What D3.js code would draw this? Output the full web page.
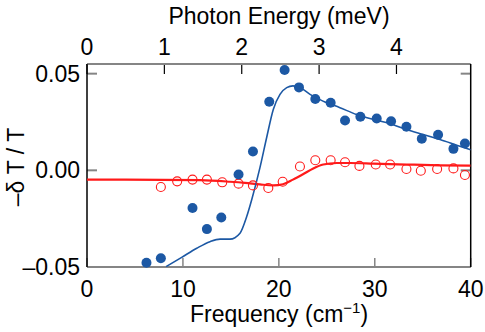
<!DOCTYPE html>
<html>
<head>
<meta charset="utf-8">
<script src="https://cdn.jsdelivr.net/npm/d3@7"></script>
<style>
	body { margin: 0; background: #fff; }
	text { font-family: "Liberation Sans", Arial, sans-serif; fill: #000; }
</style>
</head>
<body>
<div id="chart"></div>
<script>
// measured points (frequency in cm-1, -dT/T)
var blueFreq = [6.2, 7.7, 11.0, 12.5, 14.0, 15.8, 17.3, 19.0, 20.6, 22.1, 23.8, 25.4, 26.9, 28.5, 30.2, 31.7, 33.3, 34.9, 36.6, 38.2, 39.4];
var blueVal = [-0.0478, -0.0455, -0.0195, -0.0304, -0.0244, -0.0022, 0.0097, 0.0355, 0.0519, 0.0429, 0.0369, 0.0350, 0.0258, 0.0277, 0.0268, 0.0254, 0.0225, 0.0163, 0.0184, 0.0111, 0.0139];
var redFreq = [7.7, 9.4, 11.0, 12.5, 14.1, 15.8, 17.3, 18.9, 20.4, 22.2, 23.8, 25.4, 26.9, 28.4, 30.1, 31.6, 33.3, 34.8, 36.5, 38.2, 39.4];
var redVal = [-0.0086, -0.0057, -0.0048, -0.0048, -0.0062, -0.0069, -0.0078, -0.0091, -0.0059, 0.0020, 0.0052, 0.0052, 0.0042, 0.0023, 0.0030, 0.0030, 0.0007, -0.0002, 0.0007, 0.0010, -0.0024];

// fit curves
var blueFitFreq = [8.24, 9.87, 11.44, 12.82, 13.87, 14.9, 15.95, 16.65, 17.17, 18.03, 18.73, 19.42, 20.12, 20.82, 21.47, 22.2, 23.25, 24.6, 26.37, 28.1, 29.85, 31.6, 33.33, 35.06, 36.8, 38.54, 40.0];
var blueFitVal = [-0.0498, -0.0450, -0.0403, -0.0369, -0.0356, -0.0356, -0.0325, -0.0239, -0.0152, 0.0014, 0.0170, 0.0315, 0.0393, 0.0428, 0.0437, 0.0428, 0.0393, 0.0358, 0.0324, 0.0289, 0.0263, 0.0241, 0.0211, 0.0185, 0.0159, 0.0130, 0.0106];
var redFitFreq = [0, 11.78, 14.9, 16.47, 18.03, 19.42, 20.43, 21.47, 22.52, 23.59, 24.63, 26.03, 27.42, 29.85, 33.33, 36.8, 40.0];
var redFitVal = [-0.0048, -0.0051, -0.0059, -0.0065, -0.0073, -0.0078, -0.0072, -0.0048, -0.0020, 0.0010, 0.0030, 0.0038, 0.0038, 0.0035, 0.0030, 0.0026, 0.0024];

var xTicks = [0, 10, 20, 30, 40];
var topTicks = [0, 1, 2, 3, 4];
var yTicks = [-0.05, 0, 0.05];
var yTickLabels = ['\u20130.05', '0.00', '0.05'];

(function() {
	var width = 485, height = 332;
	var pLeft = 87, pRight = 470.7, pTop = 64, pBottom = 267;
	var blue = '#1c58a4', red = '#ff1a1a', gray = '#858585';
	var cmPerMeV = 8.0655;
	var fs = 23;

	var svg = d3.select('#chart').append('svg')
		.attr('width', width)
		.attr('height', height);

	var x = d3.scaleLinear().domain([0, 40]).range([pLeft, pRight]);
	var xTop = d3.scaleLinear().domain([0, 40 / cmPerMeV]).range([pLeft, pRight]);
	var y = d3.scaleLinear().domain([-0.05, 0.055]).range([pBottom, pTop]);

	svg.append('clipPath').attr('id', 'plot')
		.append('rect')
		.attr('x', pLeft).attr('y', pTop)
		.attr('width', pRight - pLeft).attr('height', pBottom - pTop);

	// ticks, all drawn inward
	var g = svg.append('g');
	yTicks.forEach(function(t) {
		g.append('line').attr('x1', pLeft).attr('x2', pLeft + 10)
			.attr('y1', y(t)).attr('y2', y(t))
			.attr('stroke', gray).attr('stroke-width', 2);
		g.append('line').attr('x1', pRight - 10).attr('x2', pRight)
			.attr('y1', y(t)).attr('y2', y(t))
			.attr('stroke', gray).attr('stroke-width', 2);
	});
	xTicks.forEach(function(t) {
		g.append('line').attr('x1', x(t)).attr('x2', x(t))
			.attr('y1', pBottom).attr('y2', pBottom - 9)
			.attr('stroke', gray).attr('stroke-width', 1.5);
	});
	topTicks.forEach(function(t) {
		g.append('line').attr('x1', xTop(t)).attr('x2', xTop(t))
			.attr('y1', pTop).attr('y2', pTop + 10)
			.attr('stroke', '#000').attr('stroke-width', 1.2);
	});

	// frame
	g.append('line').attr('x1', pLeft).attr('x2', pRight).attr('y1', pTop).attr('y2', pTop)
		.attr('stroke', gray).attr('stroke-width', 2);
	g.append('line').attr('x1', pLeft).attr('x2', pRight).attr('y1', pBottom).attr('y2', pBottom)
		.attr('stroke', gray).attr('stroke-width', 2);
	g.append('line').attr('x1', pLeft).attr('x2', pLeft).attr('y1', pTop).attr('y2', pBottom)
		.attr('stroke', '#000').attr('stroke-width', 1.5);
	g.append('line').attr('x1', pRight).attr('x2', pRight).attr('y1', pTop).attr('y2', pBottom)
		.attr('stroke', '#000').attr('stroke-width', 1.5);

	// tick labels
	yTicks.forEach(function(t, i) {
		svg.append('text').attr('x', 80).attr('y', y(t) + 8)
			.attr('text-anchor', 'end').attr('font-size', fs)
			.text(yTickLabels[i]);
	});
	xTicks.forEach(function(t) {
		svg.append('text').attr('x', x(t)).attr('y', 297)
			.attr('text-anchor', 'middle').attr('font-size', fs)
			.text(t);
	});
	topTicks.forEach(function(t) {
		svg.append('text').attr('x', xTop(t)).attr('y', 55)
			.attr('text-anchor', 'middle').attr('font-size', fs)
			.text(t);
	});

	// axis titles
	svg.append('text').attr('x', 279).attr('y', 24)
		.attr('text-anchor', 'middle').attr('font-size', fs)
		.text('Photon Energy (meV)');
	var xl = svg.append('text').attr('x', 279).attr('y', 322)
		.attr('text-anchor', 'middle').attr('font-size', fs);
	xl.append('tspan').text('Frequency (cm');
	xl.append('tspan').attr('dy', -9).attr('font-size', 15).text('\u22121');
	xl.append('tspan').attr('dy', 9).text(')');
	svg.append('text')
		.attr('transform', 'translate(24,167) rotate(-90)')
		.attr('text-anchor', 'middle').attr('font-size', fs)
		.text('\u2013\u03b4 T / T');

	// fit lines
	var line = d3.line()
		.x(function(d) { return x(d[0]); })
		.y(function(d) { return y(d[1]); })
		.curve(d3.curveMonotoneX);

	var plot = svg.append('g').attr('clip-path', 'url(#plot)');
	plot.append('path')
		.datum(redFitFreq.map(function(f, i) { return [f, redFitVal[i]]; }))
		.attr('d', line)
		.attr('fill', 'none').attr('stroke', red).attr('stroke-width', 2.2);
	plot.append('path')
		.datum(blueFitFreq.map(function(f, i) { return [f, blueFitVal[i]]; }))
		.attr('d', line)
		.attr('fill', 'none').attr('stroke', blue).attr('stroke-width', 1.6);

	// points
	svg.selectAll('circle.red')
		.data(redFreq)
		.enter().append('circle')
			.attr('class', 'red')
			.attr('cx', function(d) { return x(d); })
			.attr('cy', function(d, i) { return y(redVal[i]); })
			.attr('r', 4.5)
			.attr('fill', 'none').attr('stroke', red).attr('stroke-width', 1.1);
	svg.selectAll('circle.blue')
		.data(blueFreq)
		.enter().append('circle')
			.attr('class', 'blue')
			.attr('cx', function(d) { return x(d); })
			.attr('cy', function(d, i) { return y(blueVal[i]); })
			.attr('r', 5)
			.attr('fill', blue);
})();
</script>
</body>
</html>
